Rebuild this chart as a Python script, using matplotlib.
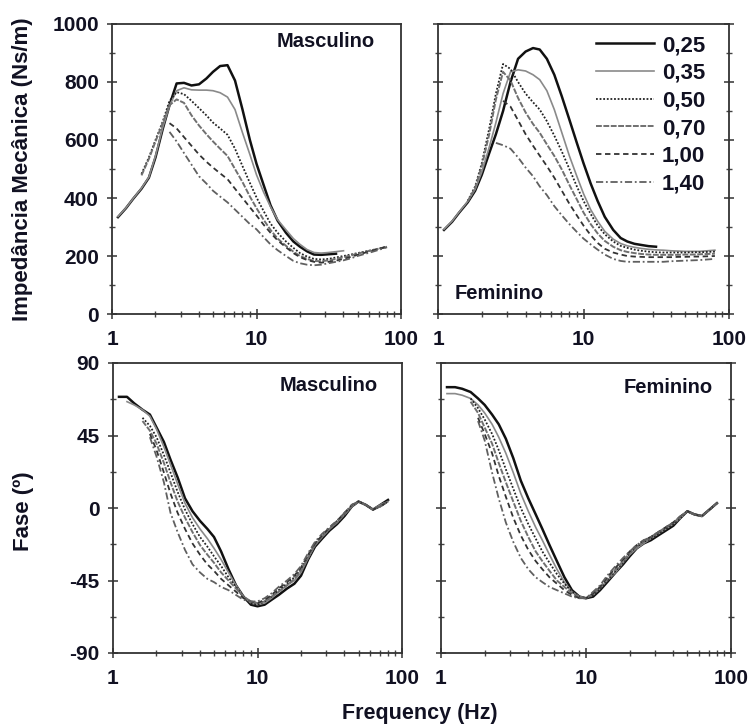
import numpy as np
import matplotlib
matplotlib.use("Agg")
import matplotlib.pyplot as plt
from matplotlib.ticker import FixedLocator, NullFormatter

plt.rcParams['font.family'] = ['Liberation Sans', 'DejaVu Sans']
plt.rcParams['font.weight'] = 'bold'
plt.rcParams['axes.unicode_minus'] = False

N = np.nan

# frequency grid (Hz)
freq = [1.1, 1.25, 1.4, 1.6, 1.8, 2.0, 2.25, 2.5, 2.8, 3.15,
        3.55, 4.0, 4.5, 5.0, 5.6, 6.3, 7.1, 8.0, 9.0, 10,
        11.2, 12.5, 14, 16, 18, 20, 22.4, 25, 28, 31.5,
        35.5, 40, 45, 50, 56, 63, 71, 80]

labels = ['0,25', '0,35', '0,50', '0,70', '1,00', '1,40']

# ---- impedance, masculino (Ns/m)
m_imp_025 = [334, 365, 397, 432, 470, 540, 640, 720, 795, 797,
             788, 792, 812, 835, 855, 858, 805, 705, 600, 518,
             445, 375, 322, 280, 250, 232, 216, 205, 204, 206,
             208, N, N, N, N, N, N, N]
m_imp_035 = [336, 366, 398, 434, 472, 545, 645, 718, 770, 780,
             773, 772, 772, 770, 763, 748, 705, 625, 550, 480,
             420, 370, 325, 290, 260, 240, 222, 212, 210, 212,
             215, 218, N, N, N, N, N, N]
m_imp_050 = [N, N, N, 483, 540, 600, 665, 735, 765, 758,
             735, 710, 685, 660, 640, 618, 570, 510, 452, 402,
             355, 312, 280, 250, 228, 210, 198, 190, 188, 190,
             195, 200, 205, 210, 215, 220, 226, 232]
m_imp_070 = [N, N, N, 478, 535, 595, 660, 720, 740, 728,
             685, 650, 620, 595, 570, 545, 500, 455, 405, 365,
             325, 290, 260, 235, 215, 200, 190, 183, 182, 185,
             190, 196, 202, 208, 214, 220, 226, 232]
m_imp_100 = [N, N, N, N, N, N, N, 658, 640, 610,
             580, 550, 525, 505, 485, 465, 432, 400, 368, 340,
             308, 280, 254, 230, 210, 196, 186, 180, 177, 180,
             184, 190, 197, 204, 211, 218, 225, 232]
m_imp_140 = [N, N, N, N, N, N, N, 628, 595, 555,
             515, 475, 450, 425, 405, 385, 360, 335, 310, 292,
             265, 240, 220, 200, 183, 175, 170, 168, 170, 175,
             180, 185, 192, 200, 207, 214, 222, 230]

# ---- impedance, feminino (Ns/m)
f_imp_025 = [290, 318, 350, 385, 425, 480, 555, 620, 700, 800,
             880, 905, 917, 912, 880, 825, 750, 670, 590, 520,
             450, 390, 335, 290, 262, 250, 242, 238, 234, 232,
             N, N, N, N, N, N, N, N]
f_imp_035 = [292, 320, 352, 388, 430, 490, 575, 660, 760, 835,
             842, 838, 825, 808, 770, 705, 625, 545, 475, 415,
             360, 320, 285, 258, 243, 235, 230, 226, 223, 221,
             220, 218, 217, 216, 216, 216, 218, 220]
f_imp_050 = [N, N, N, 390, 440, 520, 640, 760, 862, 845,
             800, 760, 730, 705, 665, 615, 560, 500, 440, 390,
             345, 305, 275, 250, 235, 228, 222, 218, 215, 213,
             212, 212, 212, 212, 213, 213, 214, 215]
f_imp_070 = [N, N, N, 388, 435, 510, 620, 740, 835, 805,
             745, 695, 655, 625, 585, 545, 498, 445, 395, 350,
             310, 278, 252, 232, 220, 214, 210, 207, 205, 204,
             204, 204, 204, 205, 205, 206, 207, 208]
f_imp_100 = [N, N, N, N, N, N, N, N, 735, 715,
             668, 620, 580, 546, 510, 470, 425, 380, 340, 305,
             272, 245, 225, 212, 205, 200, 198, 197, 196, 196,
             196, 196, 197, 197, 198, 198, 199, 200]
f_imp_140 = [N, N, N, N, N, N, N, 590, 582, 570,
             540, 505, 475, 440, 410, 372, 340, 310, 283, 260,
             240, 222, 205, 190, 183, 180, 180, 180, 180, 180,
             180, 182, 183, 184, 185, 186, 188, 190]

# ---- phase, masculino (deg)
m_ph_025 = [69, 69, 65, 61, 58, 50, 41, 30, 19, 6,
            -2, -8, -13, -18, -27, -38, -48, -55, -60, -61,
            -60, -57, -54, -50, -47, -42, -32, -24, -19, -14,
            -10, -5, 1, 4, 2, -1, 2, 5]
m_ph_035 = [N, 66, 64, 61, 57, 49, 38, 27, 15, 3,
            -6, -13, -19, -25, -32, -40, -48, -55, -59, -60,
            -59, -56, -52, -48, -45, -40, -31, -23, -18, -13,
            -9, -4, 1, 4, 2, -1, 2, 4]
m_ph_050 = [N, N, N, 56, 51, 44, 33, 22, 10, -1,
            -10, -18, -24, -30, -36, -43, -49, -55, -59, -60,
            -58, -55, -51, -47, -43, -38, -30, -22, -17, -13,
            -8, -4, 1, 4, 2, -1, 1, 4]
m_ph_070 = [N, N, N, 54, 48, 40, 28, 16, 4, -6,
            -15, -23, -29, -34, -40, -45, -50, -55, -58, -59,
            -58, -55, -52, -48, -44, -39, -31, -23, -18, -13,
            -9, -4, 1, 4, 2, -1, 2, 4]
m_ph_100 = [N, N, N, N, 46, 36, 22, 9, -3, -13,
            -22, -29, -35, -39, -44, -48, -52, -56, -58, -59,
            -57, -54, -50, -46, -42, -37, -29, -22, -17, -12,
            -8, -3, 2, 4, 2, -1, 1, 4]
m_ph_140 = [N, N, N, N, 44, 32, 16, -3, -15, -26,
            -35, -40, -44, -46, -49, -51, -54, -57, -58, -58,
            -56, -53, -49, -45, -41, -36, -28, -21, -16, -12,
            -8, -3, 2, 4, 2, -1, 1, 4]

# ---- phase, feminino (deg)
f_ph_025 = [75, 75, 74, 72, 68, 64, 58, 52, 43, 31,
            17, 6, -4, -13, -23, -33, -43, -51, -55, -56,
            -55, -51, -46, -40, -35, -30, -25, -22, -20, -17,
            -14, -11, -6, -2, -4, -5, -1, 3]
f_ph_035 = [71, 71, 70, 68, 64, 59, 52, 44, 34, 22,
            9, -2, -12, -20, -29, -38, -46, -52, -55, -56,
            -54, -50, -45, -40, -34, -29, -25, -22, -19, -16,
            -13, -10, -6, -2, -4, -5, -1, 3]
f_ph_050 = [N, N, N, 68, 62, 55, 46, 36, 24, 12,
            0, -10, -19, -27, -34, -41, -47, -52, -55, -56,
            -54, -50, -45, -39, -34, -28, -24, -21, -19, -16,
            -13, -10, -6, -2, -4, -5, -1, 3]
f_ph_070 = [N, N, N, 66, 59, 50, 40, 28, 16, 4,
            -8, -18, -27, -33, -39, -45, -49, -53, -55, -56,
            -53, -49, -44, -38, -33, -28, -24, -21, -18, -15,
            -12, -9, -5, -2, -4, -5, -1, 3]
f_ph_100 = [N, N, N, N, 56, 46, 34, 20, 7, -6,
            -17, -26, -33, -38, -43, -47, -51, -54, -56, -56,
            -53, -49, -43, -37, -32, -27, -23, -20, -18, -15,
            -12, -9, -5, -2, -4, -5, -1, 3]
f_ph_140 = [N, N, N, N, 54, 42, 22, 6, -9, -21,
            -31, -38, -43, -46, -49, -51, -53, -55, -56, -56,
            -52, -48, -42, -36, -31, -27, -23, -20, -18, -15,
            -12, -9, -5, -2, -4, -5, -1, 3]

styles = [
    dict(color='#111111', lw=1.8, ls='-'),
    dict(color='#8a8a8a', lw=1.2, ls='-'),
    dict(color='#222222', lw=1.3, ls=(0, (1, 1))),
    dict(color='#707070', lw=1.4, ls=(0, (3, 0.8))),
    dict(color='#333333', lw=1.3, ls=(0, (3, 2))),
    dict(color='#606060', lw=1.3, ls=(0, (4, 1.5, 1, 1.5))),
]

txt = '#111122'
W, H = 752, 727
fig = plt.figure(figsize=(W / 100, H / 100), dpi=100)
fig.patch.set_facecolor('w')


def px_axes(x0, x1, ytop, ybot):
    return fig.add_axes([x0 / W, 1 - ybot / H, (x1 - x0) / W, (ybot - ytop) / H])


def style_axes(ax, kind, left):
    ax.set_xscale('log')
    ax.set_xlim(1, 100)
    ax.xaxis.set_major_locator(FixedLocator([1, 10, 100]))
    ax.set_xticklabels(['1', '10', '100'])
    minors = [m * d for d in (1, 10) for m in range(2, 10)]
    ax.xaxis.set_minor_locator(FixedLocator(minors))
    ax.xaxis.set_minor_formatter(NullFormatter())
    if kind == 'imp':
        ax.set_ylim(0, 1000)
        ax.set_yticks(np.arange(0, 1001, 200))
        ax.set_yticks(np.arange(0, 1001, 100), minor=True)
    else:
        ax.set_ylim(-90, 90)
        ax.set_yticks([-90, -45, 0, 45, 90])
        ax.set_yticks(np.arange(-90, 91, 22.5), minor=True)
    ax.tick_params(which='major', direction='inout', length=7, width=1.1,
                   color='#333333', labelsize=15, labelcolor=txt)
    ax.tick_params(which='minor', direction='inout', length=4, width=1.0,
                   color='#444444')
    ax.tick_params(axis='x', which='major', pad=8)
    ax.tick_params(axis='y', which='major', pad=6)
    if not left:
        ax.tick_params(axis='y', which='both', right=True, labelleft=False)
    for s in ax.spines.values():
        s.set_color('#333333')
        s.set_linewidth(1.3)
    for lab in ax.get_xticklabels() + ax.get_yticklabels():
        lab.set_fontweight('bold')


ax_mi = px_axes(112, 401, 24, 314)
ax_fi = px_axes(438, 729, 24, 314)
ax_mp = px_axes(113, 402, 363, 653)
ax_fp = px_axes(441, 731, 363, 653)

panels = [
    (ax_mi, [m_imp_025, m_imp_035, m_imp_050, m_imp_070, m_imp_100, m_imp_140], 'imp', True),
    (ax_fi, [f_imp_025, f_imp_035, f_imp_050, f_imp_070, f_imp_100, f_imp_140], 'imp', False),
    (ax_mp, [m_ph_025, m_ph_035, m_ph_050, m_ph_070, m_ph_100, m_ph_140], 'ph', True),
    (ax_fp, [f_ph_025, f_ph_035, f_ph_050, f_ph_070, f_ph_100, f_ph_140], 'ph', False),
]

for ax, series, kind, left in panels:
    for vals, st, lab in zip(series, styles, labels):
        ax.plot(freq, vals, color=st['color'], lw=st['lw'], ls=st['ls'], label=lab)
    style_axes(ax, kind, left)

leg = ax_fi.legend(loc='upper left', bbox_to_anchor=(0.49, 1.015), frameon=False,
                   handlelength=2.6, handletextpad=0.35, labelspacing=0.3,
                   borderaxespad=0.3, prop={'size': 16, 'weight': 'bold'})
for t in leg.get_texts():
    t.set_color(txt)

fs = 14.5
ax_mi.text(0.91, 0.938, 'Masculino', transform=ax_mi.transAxes, ha='right', va='center',
           fontsize=fs, fontweight='bold', color=txt)
ax_fi.text(0.058, 0.069, 'Feminino', transform=ax_fi.transAxes, ha='left', va='center',
           fontsize=fs, fontweight='bold', color=txt)
ax_mp.text(0.917, 0.924, 'Masculino', transform=ax_mp.transAxes, ha='right', va='center',
           fontsize=fs, fontweight='bold', color=txt)
ax_fp.text(0.938, 0.917, 'Feminino', transform=ax_fp.transAxes, ha='right', va='center',
           fontsize=fs, fontweight='bold', color=txt)

fig.text(23 / W, 1 - 169 / H, 'Impedância Mecânica (Ns/m)', rotation=90,
         ha='center', va='center', fontsize=16, fontweight='bold', color=txt)
fig.text(23 / W, 1 - 511 / H, 'Fase (º)', rotation=90,
         ha='center', va='center', fontsize=16, fontweight='bold', color=txt)
fig.text(420 / W, 1 - 713 / H, 'Frequency (Hz)', ha='center', va='center',
         fontsize=15.5, fontweight='bold', color=txt)

fig.savefig('out.png', dpi=100, facecolor='w')
